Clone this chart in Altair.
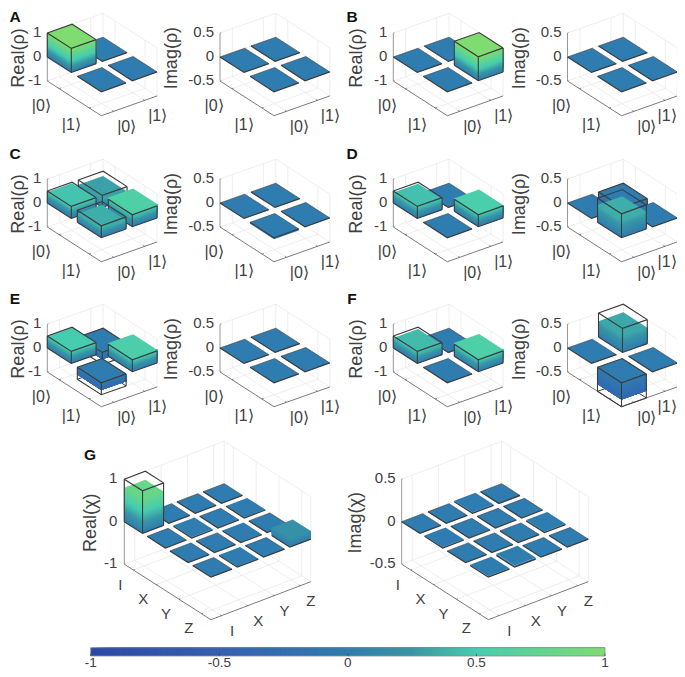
import altair as alt

# ---- measured values, rows = left axis index, cols = right axis index ----
A_RE = [[1.0, 0.0], [0.0, 0.0]]
A_IM = [[0.0, 0.0], [0.0, 0.0]]
B_RE = [[0.0, 0.0], [0.0, 1.0]]
B_IM = [[0.0, 0.0], [0.0, 0.0]]
C_RE = [[0.46, 0.30], [0.36, 0.58]]
C_IM = [[0.0, 0.0], [-0.03, 0.0]]
D_RE = [[0.44, -0.02], [0.0, 0.54]]
D_IM = [[0.0, -0.40], [0.36, 0.0]]
E_RE = [[0.50, -0.28], [-0.30, 0.55]]
E_IM = [[0.0, 0.0], [0.0, 0.0]]
F_RE = [[0.42, -0.03], [0.0, 0.56]]
F_IM = [[0.0, 0.33], [-0.35, 0.0]]
G_RE = [[0.80, 0.0, 0.0, 0.0],
        [0.0, 0.02, 0.0, 0.01],
        [0.0, 0.0, 0.01, 0.0],
        [0.0, 0.01, 0.0, 0.19]]
G_IM = [[0.0, 0.0, 0.01, -0.01],
        [0.01, 0.0, 0.0, 0.0],
        [0.0, 0.0, 0.0, 0.01],
        [0.01, 0.02, 0.0, 0.0]]
# ---- ideal values (wire frames) ----
A_RE_IDEAL = [[1, 0], [0, 0]]
B_RE_IDEAL = [[0, 0], [0, 1]]
C_RE_IDEAL = [[.5, .5], [.5, .5]]
D_RE_IDEAL = [[.5, 0], [0, .5]]
D_IM_IDEAL = [[0, -.5], [.5, 0]]
E_RE_IDEAL = [[.5, -.5], [-.5, .5]]
F_RE_IDEAL = [[.5, 0], [0, .5]]
F_IM_IDEAL = [[0, .5], [-.5, 0]]
G_RE_IDEAL = [[1, 0, 0, 0], [0, 0, 0, 0], [0, 0, 0, 0], [0, 0, 0, 0]]
ZERO2 = [[0, 0], [0, 0]]
ZERO4 = [[0] * 4 for _ in range(4)]

KETS = ["|0⟩", "|1⟩"]
PAULI = ["I", "X", "Y", "Z"]
RE_TICKS = [-1, 0, 1]
IM_TICKS = [-0.5, 0, 0.5]
CBAR_TICKS = [-1, -0.5, 0, 0.5, 1]
LETTERS = ["A", "B", "C", "D", "E", "F", "G"]

# colour map stops
CMAP_V = [-1, -0.5, 0, 0.25, 0.5, 1]
CMAP_C = [(44, 72, 168), (52, 96, 178), (47, 124, 176), (56, 150, 166), (70, 205, 176), (126, 220, 112)]

def cmap(z):
    z = max(-1, min(1, z))
    for k in range(len(CMAP_V) - 1):
        if z <= CMAP_V[k + 1]:
            t = (z - CMAP_V[k]) / (CMAP_V[k + 1] - CMAP_V[k])
            a, b = CMAP_C[k], CMAP_C[k + 1]
            return "#%02x%02x%02x" % tuple(int(round(a[n] + t * (b[n] - a[n]))) for n in range(3))
    return "#%02x%02x%02x" % CMAP_C[-1]

features, labels = [], []
GRID, AX, FLOOR, WIRE = "#e6e6e6", "#8c8c8c", "#5a5a5a", "#3c3c3c"
TXT = "#404040"

def line(pts, stroke, sw):
    features.append({"type": "Feature", "geometry": {"type": "LineString", "coordinates": [list(p) for p in pts]},
                     "properties": {"fill": "transparent", "stroke": stroke, "sw": sw}})

def poly(pts, fill, sw=0.0):
    c = [list(p) for p in pts]
    c.append(c[0])
    features.append({"type": "Feature", "geometry": {"type": "Polygon", "coordinates": [c]},
                     "properties": {"fill": fill, "stroke": fill, "sw": sw}})

def text(x, y, t, size, angle=0, weight="normal", align="center"):
    labels.append({"x": x, "y": y, "t": t, "size": size, "angle": angle, "weight": weight, "align": align})

def panel(ax, ay, U, V, sz, n, ticks, vals, ideal, names, ylab, ylab_dx, tdx, off_u, off_v, fs=15, nfs=15):
    w, B = 0.8, n - 0.2
    zmin, zmax = ticks[0], ticks[-1]
    P = lambda a, b, z: (ax + a * U[0] + b * V[0], ay + a * U[1] + b * V[1] - z * sz)
    tp = [i + 0.4 for i in range(n)]
    # walls and floor grid
    for z in ticks:
        line([P(0, 0, z), P(0, B, z), P(B, B, z)], GRID, 0.7)
    line([P(0, B, zmin), P(0, B, zmax)], GRID, 0.7)
    line([P(B, B, zmin), P(B, B, zmax)], GRID, 0.7)
    for t in tp:
        line([P(0, t, zmin), P(0, t, zmax)], GRID, 0.7)
        line([P(t, B, zmin), P(t, B, zmax)], GRID, 0.7)
        line([P(0, t, zmin), P(B, t, zmin)], GRID, 0.7)
        line([P(t, 0, zmin), P(t, B, zmin)], GRID, 0.7)
    # axes
    line([P(0, 0, zmin), P(0, 0, zmax)], AX, 0.9)
    line([P(0, 0, zmin), P(B, 0, zmin), P(B, B, zmin)], FLOOR, 0.8)
    for t in tp:
        line([P(t, 0, zmin), P(t, 0.05, zmin)], FLOOR, 0.7)
        line([P(B, t, zmin), P(B - 0.05, t, zmin)], FLOOR, 0.7)
    for z in ticks:
        line([P(0, 0, z), P(0, 0.04, z)], AX, 0.7)
        xz, yz = P(0, 0, z)
        text(xz - tdx, yz - 1, f"{z:g}", fs, align="right")
    # axis labels
    for k, t in enumerate(tp):
        x, y = P(t, 0, zmin)
        text(x + off_u[0], y + off_u[1], names[k], nfs)
        x, y = P(B, t, zmin)
        text(min(x + off_v[0], 667), y + off_v[1], names[k], nfs)
    text(max(ax + ylab_dx, 19), ay + 1, ylab, 18, angle=270)
    # bars, back to front
    for j in range(n - 1, -1, -1):
        for i in range(n):
            h, id_ = vals[i][j], ideal[i][j]
            a0, a1, b0, b1 = i, i + w, j, j + w
            # wire edges that lie behind the solid
            if id_ < 0:
                line([P(a0, b0, id_), P(a0, b1, id_), P(a1, b1, id_)], WIRE, 1.0)
            # solid: nested faces, so that no seam shows between the colour steps
            if abs(h) > 1e-6:
                steps = max(1, int(abs(h) / 0.02))
                for s in range(steps):
                    z0, zm = h * s / steps, h * (s + 0.5) / steps
                    col = cmap(zm)
                    poly([P(a0, b0, z0), P(a1, b0, z0), P(a1, b0, h), P(a0, b0, h)], col)
                    poly([P(a1, b0, z0), P(a1, b1, z0), P(a1, b1, h), P(a1, b0, h)], col)
            top = max(h, 0)
            poly([P(a0, b0, top), P(a1, b0, top), P(a1, b1, top), P(a0, b1, top)], cmap(top))
            # wire
            zt = max(id_, 0)
            zb = min(id_, 0)
            flat = id_ == 0
            if not (flat and h > 0.005) and not (h > id_ + 1e-6 and id_ > 0):
                sw_back = 0.6 if flat else 1.1
                line([P(a0, b0, zt), P(a0, b1, zt), P(a1, b1, zt)], WIRE, sw_back)
            line([P(a0, b0, zt), P(a1, b0, zt), P(a1, b1, zt)], WIRE, 1.2)
            if not flat:
                line([P(a0, b0, zb), P(a0, b0, zt)], WIRE, 1.1)
                line([P(a1, b0, zb), P(a1, b0, zt)], WIRE, 1.1)
                line([P(a1, b1, zb), P(a1, b1, zt)], WIRE, 1.1)
                line([P(a0, b0, zb), P(a1, b0, zb), P(a1, b1, zb)], WIRE, 1.1)

U2, V2 = (30, 19.3), (31, -11)
U4, V4 = (22.8, 14.6), (26.3, -10)
RE2 = dict(U=U2, V=V2, sz=24, n=2, ticks=RE_TICKS, names=KETS, ylab="Real(ρ)", ylab_dx=-36, tdx=6, off_u=(-18, 17), off_v=(13, 16), nfs=16)
IM2 = dict(U=U2, V=V2, sz=48, n=2, ticks=IM_TICKS, names=KETS, ylab="Imag(ρ)", ylab_dx=-48, tdx=6, off_u=(-18, 17), off_v=(13, 16), nfs=16)

rows = [
    (57, 47.3, 220, A_RE, A_RE_IDEAL, A_IM, ZERO2),
    (57, 393.3, 567.5, B_RE, B_RE_IDEAL, B_IM, ZERO2),
    (203, 47.3, 220, C_RE, C_RE_IDEAL, C_IM, ZERO2),
    (203, 393.3, 567.5, D_RE, D_RE_IDEAL, D_IM, D_IM_IDEAL),
    (348, 47.3, 220, E_RE, E_RE_IDEAL, E_IM, ZERO2),
    (348, 393.3, 567.5, F_RE, F_RE_IDEAL, F_IM, F_IM_IDEAL),
]
for (y0, xr, xi, re, rei, im, imi) in rows:
    panel(xr, y0, vals=re, ideal=rei, **RE2)
    panel(xi, y0, vals=im, ideal=imi, **IM2)
panel(124.3, 521.7, U4, V4, 42.5, 4, RE_TICKS, G_RE, G_RE_IDEAL, PAULI, "Real(χ)", -33.6, 7, (-13, 14.5), (10.5, 15.5))
panel(401.7, 521.7, U4, V4, 85, 4, IM_TICKS, G_IM, ZERO4, PAULI, "Imag(χ)", -45.7, 6, (-13, 14.5), (10.5, 15.5))

letter_pos = [(15, 17), (352, 17), (15, 154), (352, 154), (15, 299), (352, 299), (90, 455)]
for L, (x, y) in zip(LETTERS, letter_pos):
    text(x, y, L, 15.5, weight="bold")

# colour bar
cx0, cx1, cy0, cy1 = 90.7, 605, 647.7, 656
N = 200
for k in range(N):
    v0, v1 = -1 + 2 * k / N, -1 + 2 * (k + 1) / N
    xa = cx0 + (v0 + 1) / 2 * (cx1 - cx0)
    poly([(xa, cy0), (cx1, cy0), (cx1, cy1), (xa, cy1)], cmap((v0 + v1) / 2))
line([(cx0, cy0), (cx1, cy0), (cx1, cy1), (cx0, cy1), (cx0, cy0)], "#8c8c8c", 0.8)
for v in CBAR_TICKS:
    x = cx0 + (v + 1) / 2 * (cx1 - cx0)
    line([(x, cy1), (x, cy1 - 2.5)], "#404040", 0.7)
    text(x, 662.5, f"{v:g}", 13.5)

W, H = 669, 661
shapes = alt.Chart(alt.Data(values=features)).mark_geoshape().encode(
    fill=alt.Fill("properties.fill:N", scale=None),
    stroke=alt.Stroke("properties.stroke:N", scale=None),
    strokeWidth=alt.StrokeWidth("properties.sw:Q", scale=None),
).project(type="identity", scale=1, translate=[-8, -8])

xs = alt.X("x:Q", scale=alt.Scale(domain=[8, 8 + W], nice=False, zero=False), axis=None)
ys = alt.Y("y:Q", scale=alt.Scale(domain=[8 + H, 8], nice=False, zero=False), axis=None)

def layer(sel, **kw):
    return alt.Chart(alt.Data(values=[d for d in labels if sel(d)])).mark_text(
        font="Liberation Sans", color=TXT, baseline="middle", **kw
    ).encode(x=xs, y=ys, text="t:N", size=alt.Size("size:Q", scale=None))

txt_center = layer(lambda d: d["align"] == "center" and d["angle"] == 0 and d["weight"] == "normal", align="center")
txt_right = layer(lambda d: d["align"] == "right", align="right")
txt_rot = layer(lambda d: d["angle"] == 270, align="center", angle=270)
txt_bold = alt.Chart(alt.Data(values=[d for d in labels if d["weight"] == "bold"])).mark_text(
    font="Liberation Sans", color="#111111", fontWeight="bold", baseline="middle", align="center"
).encode(x=xs, y=ys, text="t:N", size=alt.Size("size:Q", scale=None))

chart = alt.layer(shapes, txt_center, txt_right, txt_rot, txt_bold).properties(
    width=W, height=H, padding=0, autosize=alt.AutoSizeParams(type="none")
).configure_view(stroke=None).resolve_scale(x="shared", y="shared")

chart.save("out.html", embed_options={"renderer": "svg", "actions": False})
